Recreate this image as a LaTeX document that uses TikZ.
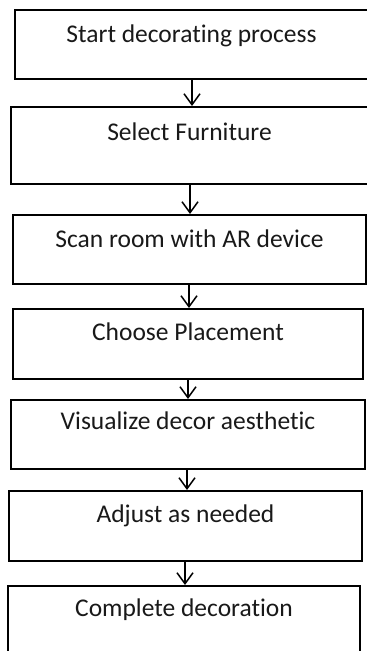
\documentclass[tikz,border=0pt]{standalone}
\usepackage{fontspec}
\setmainfont{Carlito}[RawFeature=-liga]
\usetikzlibrary{arrows.meta,calc}
\tikzset{
  flowbox/.style={draw=black, line width=2pt, fill=white, rectangle, inner sep=0pt},
  flowtext/.style={anchor=base, inner sep=0pt, font=\fontsize{25.5}{30}\selectfont, text=black!90},
  flowarrow/.style={draw=black, line width=1.5pt, -{Straight Barb[length=11pt,width=16pt,line width=1.5pt]}}
}
\newcommand{\flowstep}[7]{%
  \node[flowbox, minimum width={#3-#1}, minimum height={#4-#2}] (#5) at ({(#1+#3)/2},{(#2+#4)/2}) {};
  \node[flowtext] (#5t) at ($(#5.north)+(0,#6)$) {#7};
}
\begin{document}
\begin{tikzpicture}[x=1pt,y=-1pt]
\useasboundingbox (0,0) rectangle (367,651);
\fill[white] (0,0) rectangle (367,651);
\flowstep{15}{10}{368}{79}{b1}{33.5}{Start decorating process}
\flowstep{11}{107}{368}{184}{b2}{34.5}{Select Furniture}
\flowstep{13}{215}{366}{284}{b3}{33}{Scan room with AR device}
\flowstep{13}{309}{363}{379}{b4}{32.5}{Choose Placement}
\flowstep{11}{400}{365}{469}{b5}{30.5}{Visualize decor aesthetic}
\flowstep{9}{491}{362}{561}{b6}{32}{Adjust as needed}
\flowstep{8}{586}{360}{653}{b7}{31}{Complete decoration}
\coordinate (x1) at (192,0);
\coordinate (x2) at (190,0);
\coordinate (x3) at (189,0);
\coordinate (x4) at (188,0);
\coordinate (x5) at (187,0);
\coordinate (x6) at (185,0);
\draw[flowarrow] (b1.south -| x1) -- (b2.north -| x1);
\draw[flowarrow] (b2.south -| x2) -- (b3.north -| x2);
\draw[flowarrow] (b3.south -| x3) -- (b4.north -| x3);
\draw[flowarrow] (b4.south -| x4) -- (b5.north -| x4);
\draw[flowarrow] (b5.south -| x5) -- (b6.north -| x5);
\draw[flowarrow] (b6.south -| x6) -- (b7.north -| x6);
\end{tikzpicture}
\end{document}
